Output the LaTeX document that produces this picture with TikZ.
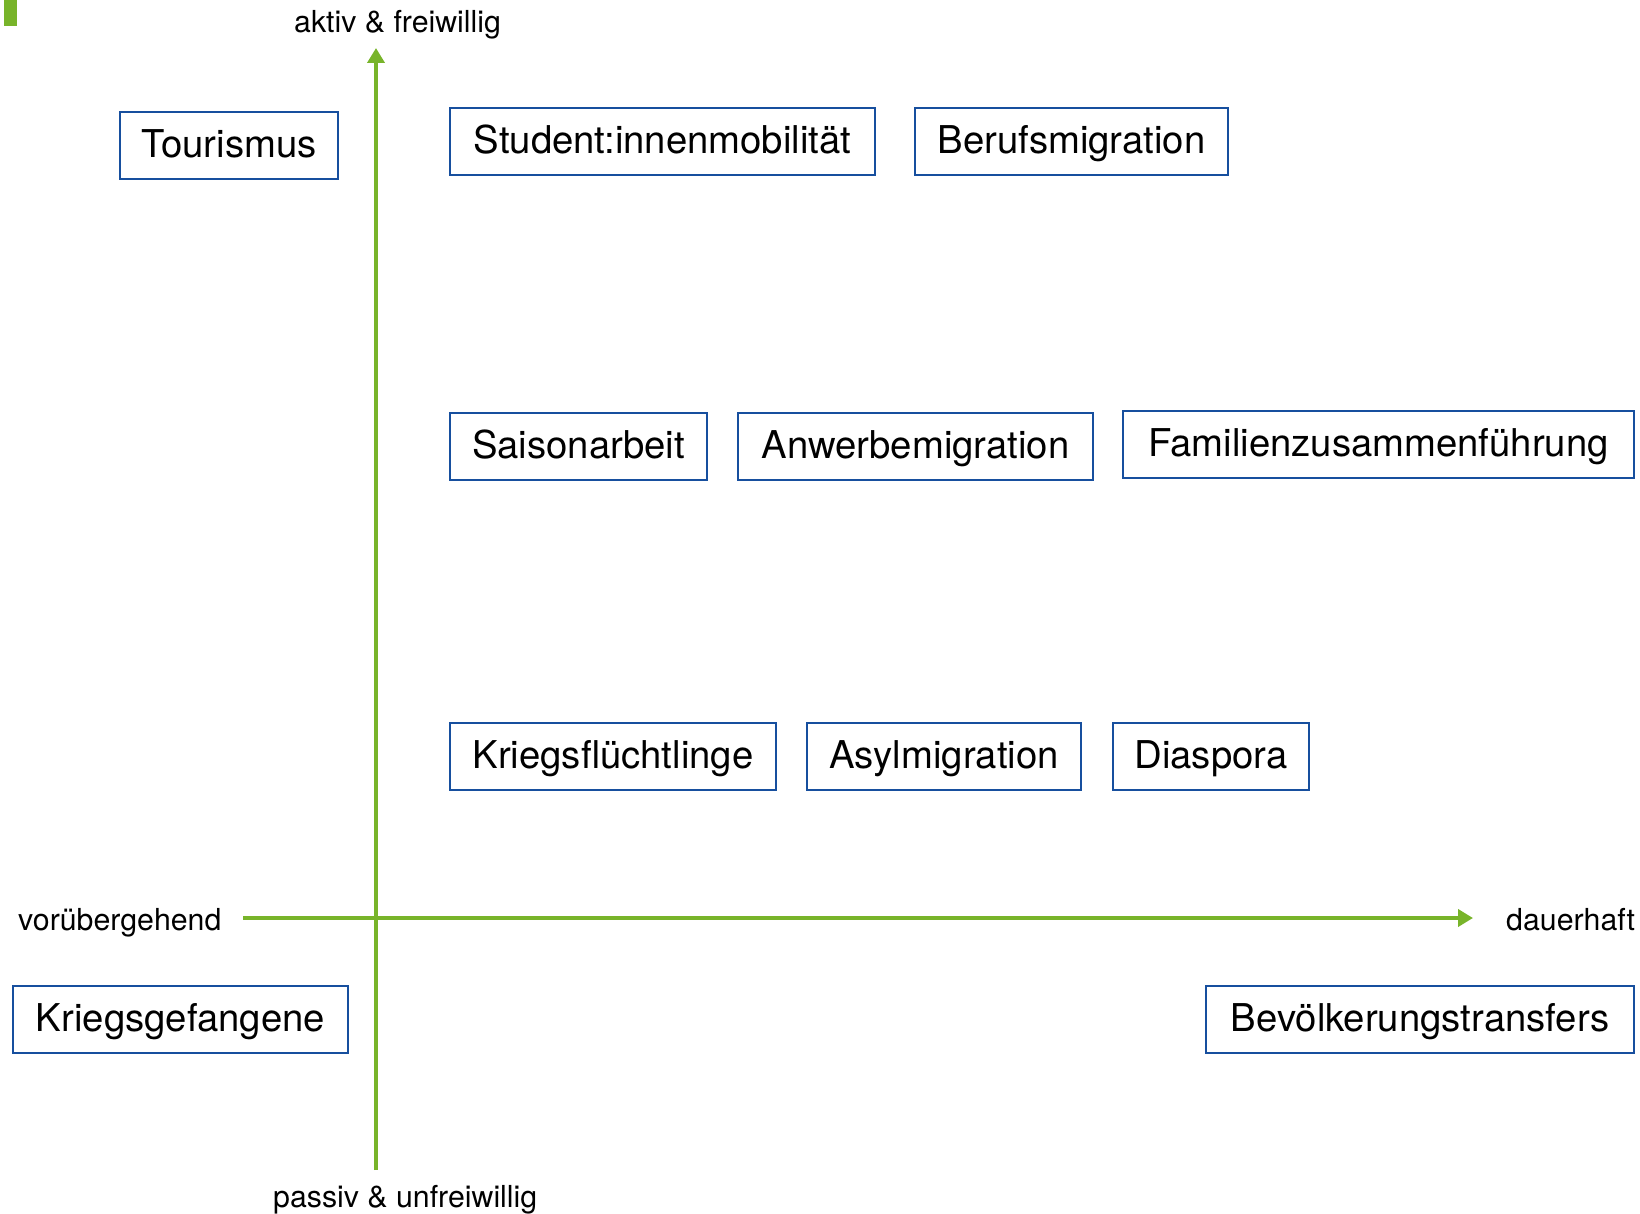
\documentclass[tikz,border=0pt]{standalone}
\usepackage{fontspec}
\setmainfont{TeX Gyre Heros}
\usepackage{tikz}
\usetikzlibrary{arrows.meta}
\definecolor{axgreen}{HTML}{78B42A}
\definecolor{boxblue}{HTML}{174F9E}
\tikzset{
  box/.style={draw=boxblue,line width=1.6pt,inner sep=0pt,minimum height=67pt,
    text height=30.5pt,text depth=6pt,font=\fontsize{38.3}{44}\selectfont},
  lab/.style={anchor=base west,inner sep=0pt,font=\fontsize{30.3}{35}\selectfont},
  arr/.style={-{Triangle[length=15pt,width=17pt]},line width=4pt,axgreen},
}

\begin{document}
\begin{tikzpicture}[x=1pt,y=-1pt]
\useasboundingbox (0,0) rectangle (1640,1214);
\fill[axgreen] (4,0) rectangle (17,26);

% axes
\coordinate (ytop) at (376,48);
\coordinate (ybot) at (376,1170);
\coordinate (xl) at (243,918);
\coordinate (xr) at (1473,918);
\draw[arr] (ybot) -- (ytop);
\draw[arr] (xl) -- (xr);

% axis labels
\node[lab] (aktiv) at (294,33) {aktiv \& freiwillig};
\node[lab] (passiv) at (273,1207) {passiv \& unfreiwillig};
\node[lab] (temp) at (18,930) {vorübergehend};
\node[lab] (perm) at (1506,930) {dauerhaft};

% top row
\node[box, minimum width=218pt] (tour) at (229,145.5) {Tourismus};
\node[box, minimum width=425pt] (stud) at (662.5,141.5) {Student:innenmobilität};
\node[box, minimum width=313pt] (beruf) at (1071.5,141.5) {Berufsmigration};

% middle row
\node[box, minimum width=257pt] (saison) at (578.5,446.5) {Saisonarbeit};
\node[box, minimum width=355pt] (anwerb) at (915.5,446.5) {Anwerbemigration};
\node[box, minimum width=511pt] (fam) at (1378.5,444.5) {Familienzusammenführung};

% lower row
\node[box, minimum width=326pt] (krfl) at (613,756.5) {Kriegsflüchtlinge};
\node[box, minimum width=274pt] (asyl) at (944,756.5) {Asylmigration};
\node[box, minimum width=196pt] (dias) at (1211,756.5) {Diaspora};

% below the axis
\node[box, minimum width=335pt] (krgef) at (180.5,1019.5) {Kriegsgefangene};
\node[box, minimum width=428pt] (bevtr) at (1420,1019.5) {Bevölkerungstransfers};

\end{tikzpicture}
\end{document}
